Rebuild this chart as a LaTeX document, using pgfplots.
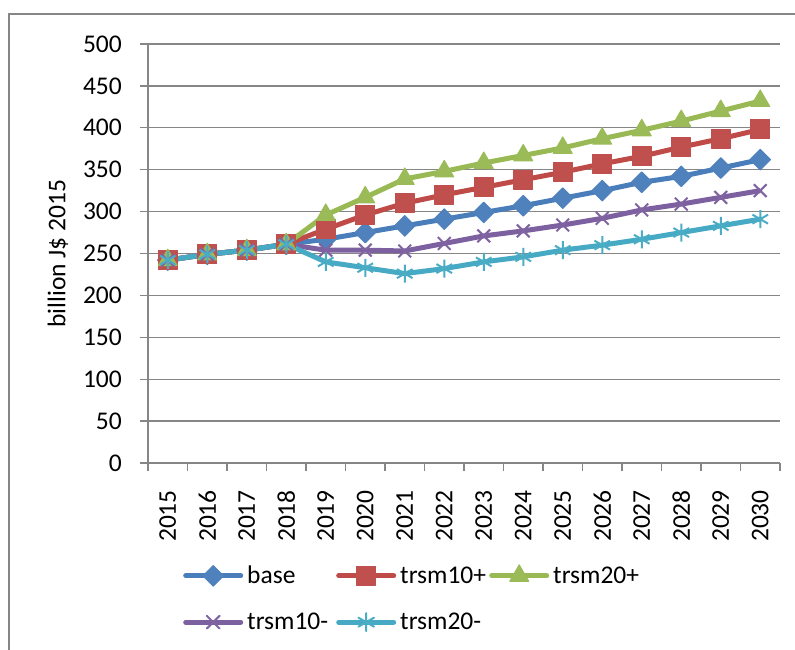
\documentclass[border=0pt]{standalone}
\usepackage{fontspec}
\setmainfont{Carlito}
\usepackage{pgfplots}
\pgfplotsset{compat=1.18}

\definecolor{baseL}{HTML}{4A7EBB}\definecolor{baseM}{HTML}{4F81BD}
\definecolor{upAL}{HTML}{BE4B48}\definecolor{upAM}{HTML}{C0504D}
\definecolor{upBL}{HTML}{98B954}\definecolor{upBM}{HTML}{9BBB59}
\definecolor{dnAL}{HTML}{7D60A0}\definecolor{dnAM}{HTML}{8064A2}
\definecolor{dnBL}{HTML}{46AAC5}\definecolor{dnBM}{HTML}{4BACC6}
\definecolor{gridgray}{HTML}{868686}

\begin{document}
\begin{tikzpicture}[font=\fontsize{25.5bp}{30bp}\selectfont]
\useasboundingbox (0,0) rectangle (795bp,-650bp);
% chart area frame
\draw[gridgray, line width=1.3bp] (9bp,-670bp) -- (9bp,-14bp) -- (820bp,-14bp);
\begin{axis}[
  at={(148bp,-463bp)}, anchor=south west,
  scale only axis, width=632bp, height=419bp,
  xmin=-0.5, xmax=15.5, ymin=0, ymax=500,
  axis x line*=bottom, axis y line*=left,
  axis line style={gridgray, line width=1.3bp},
  xtick={0,...,15},
  xticklabels={2015,2016,2017,2018,2019,2020,2021,2022,2023,2024,2025,2026,2027,2028,2029,2030},
  minor xtick={-0.5,0.5,...,15.5},
  major x tick style={draw=none},
  minor x tick style={gridgray, line width=1.3bp},
  ytick={0,50,...,500},
  y tick style={gridgray, line width=1.3bp},
  tick align=outside,
  major tick length=8bp, minor tick length=8bp,
  ymajorgrids,
  grid style={gridgray, line width=1.3bp},
  /pgf/number format/assume math mode=true,
  /pgf/number format/1000 sep={},
  xticklabel style={rotate=90, anchor=east, inner sep=0pt},
  yticklabel style={anchor=east, inner sep=0pt},
  xticklabel shift=19bp, yticklabel shift=18bp,
  ylabel={billion J\$ 2015},
  ylabel style={at={(axis description cs:-0.1424,0.5)}, anchor=center, inner sep=0pt},
  legend columns=3,
  legend style={draw=none, fill=none, inner sep=0pt, at={(axis description cs:0.0554,-0.3222)}, anchor=west,
    /tikz/every even column/.append style={column sep=0pt},
    row sep=27bp, nodes={inner sep=0pt}},
  legend cell align=left,
  legend image code/.code={%
    \draw[mark repeat=2, mark phase=2, line cap=round] plot coordinates {(0bp,0bp) (27.5bp,0bp) (55bp,0bp)};},
  every axis plot/.append style={line width=5bp, line join=round},
]
\addplot[baseL, mark=square*, mark size=7.3bp, mark options={rotate=45, fill=baseM, draw=baseM, line width=1bp}]
  coordinates {(0,242) (1,249) (2,254) (3,261) (4,267) (5,275) (6,283) (7,291) (8,299) (9,307) (10,316) (11,325) (12,335) (13,342) (14,352) (15,362)};
\addlegendentry{\hspace{4bp}\makebox[89bp][l]{base}}
\addplot[upAL, mark=square*, mark size=9.5bp, mark options={fill=upAM, draw=upAM, line width=1bp}]
  coordinates {(0,242) (1,249) (2,254) (3,261) (4,279) (5,296) (6,310) (7,320) (8,329) (9,338) (10,347) (11,357) (12,366) (13,377) (14,387) (15,398)};
\addlegendentry{\hspace{4bp}\makebox[89bp][l]{trsm10+}}
\addplot[upBL, mark=triangle*, mark size=11bp, mark options={fill=upBM, draw=upBM, line width=1bp}]
  coordinates {(0,242) (1,249) (2,254) (3,261) (4,296) (5,317) (6,339) (7,348) (8,358) (9,367) (10,376) (11,387) (12,397) (13,408) (14,420) (15,432)};
\addlegendentry{\hspace{4bp}trsm20+}
\addplot[dnAL, mark=x, mark size=9bp, mark options={draw=dnAM, line width=2bp}]
  coordinates {(0,242) (1,249) (2,254) (3,261) (4,254) (5,254) (6,253) (7,262) (8,271) (9,277) (10,284) (11,292) (12,302) (13,309) (14,317) (15,325)};
\addlegendentry{\hspace{4bp}\makebox[89bp][l]{trsm10-}}
\addplot[dnBL, mark=asterisk, mark size=9bp, mark options={draw=dnBM, line width=2bp}]
  coordinates {(0,242) (1,249) (2,254) (3,261) (4,240) (5,233) (6,226) (7,232) (8,240) (9,246) (10,254) (11,260) (12,267) (13,275) (14,283) (15,291)};
\addlegendentry{\hspace{4bp}trsm20-}
\end{axis}
\end{tikzpicture}
\end{document}
